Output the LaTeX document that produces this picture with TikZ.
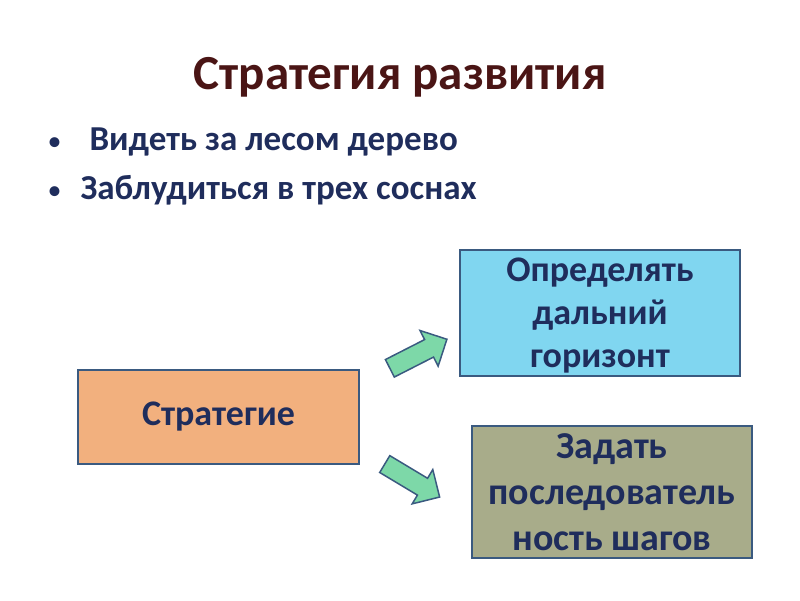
\documentclass[tikz,border=0pt]{standalone}
\usepackage{fontspec}
\setmainfont{Carlito}
\usetikzlibrary{shapes.arrows}
\definecolor{navy}{HTML}{1F2D5C}
\definecolor{titc}{HTML}{4A1515}
\definecolor{bord}{HTML}{3A5A80}
\definecolor{arrf}{HTML}{7DD8A8}
\tikzset{
 box/.style={draw=bord,line width=1.5pt,align=center,text=navy,font=\fontsize{36}{43}\selectfont\bfseries,inner sep=0pt},
 lbl/.style={align=center,text=navy,font=\fontsize{36}{43}\selectfont\bfseries,inner sep=0pt},
 arr/.style={single arrow,draw=bord,line width=1.5pt,fill=arrf,minimum height=64pt,minimum width=40pt,single arrow head extend=7pt,inner sep=6pt},
 bul/.style={anchor=base west,text=navy,font=\fontsize{35}{38}\selectfont\bfseries},
 dot/.style={anchor=base west,text=navy,font=\fontsize{28}{30}\selectfont}
}
\begin{document}
\begin{tikzpicture}[x=1pt,y=-1pt]
\useasboundingbox (0,0) rectangle (800,600);
\node[text=titc,font=\fontsize{49}{52}\selectfont\bfseries] (t) at (400,77) {Стратегия развития};
\node[dot] (d1) at (44,150) {•};
\node[bul] (b1) at (86,150) {Видеть за лесом дерево};
\node[dot] (d2) at (44,199) {•};
\node[bul] (b2) at (77,199) {Заблудиться в трех соснах};
\node[box,minimum width=280pt,minimum height=126pt,fill={rgb,255:red,128;green,214;blue,240}] (h) at (600,313) {};
\node[lbl] (ht) at (600,316) {Определять\\дальний\\горизонт};
\node[box,minimum width=281pt,minimum height=94pt,fill={rgb,255:red,242;green,176;blue,126}] (s) at (218.5,417) {Стратегие};
\node[box,minimum width=280pt,minimum height=132pt,fill={rgb,255:red,168;green,172;blue,138},font=\fontsize{38}{46}\selectfont\bfseries] (z) at (612,492) {Задать\\последователь\\ность шагов};
\node[arr,rotate=27] (a1) at (414,356) {};
\node[arr,rotate=-31] (a2) at (408,478) {};
\end{tikzpicture}
\end{document}
